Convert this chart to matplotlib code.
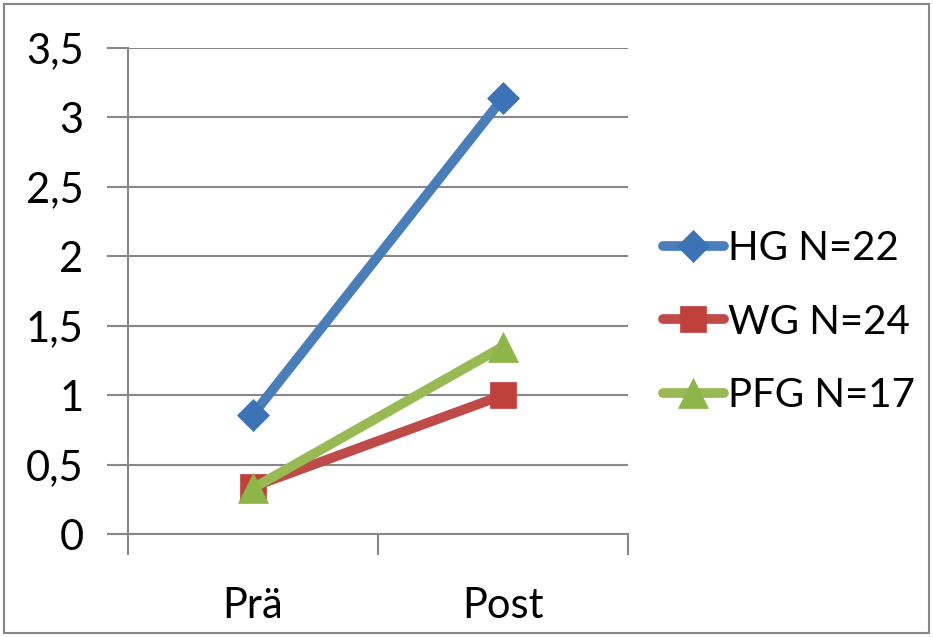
import matplotlib
matplotlib.use("Agg")
import matplotlib.pyplot as plt
from matplotlib.patches import Rectangle
from matplotlib.ticker import FuncFormatter

categories = ["Prä", "Post"]
groups = ["HG N=22", "WG N=24", "PFG N=17"]
hg = [0.86, 3.14]
wg = [0.34, 1.0]
pfg = [0.33, 1.35]

line_colors = ["#4A7EBB", "#BE4B48", "#98B954"]
marker_colors = ["#3C73B6", "#C0403C", "#8DB547"]
markers = ["D", "s", "^"]
msizes = [16, 19, 22]

plt.rcParams["font.family"] = ["Lato", "DejaVu Sans"]

fig = plt.figure(figsize=(9.33, 6.37), dpi=100)
ax = fig.add_axes([128 / 933, 1 - 534 / 637, 500 / 933, 486 / 637])

x = [0.5, 1.5]
for vals, name, lc, mc, m, ms in zip([hg, wg, pfg], groups, line_colors,
                                      marker_colors, markers, msizes):
    ax.plot(x, vals, color=lc, lw=7, solid_capstyle="round", marker=m,
            markersize=ms, markerfacecolor=mc, markeredgecolor=mc,
            markeredgewidth=0.5, label=name, zorder=3)

ax.set_xlim(0, 2)
ax.set_ylim(0, 3.5)
ax.set_yticks([i * 0.5 for i in range(8)])
ax.yaxis.set_major_formatter(FuncFormatter(lambda v, p: f"{v:g}".replace(".", ",")))
ax.grid(axis="y", color="#888888", lw=1.5)
ax.set_axisbelow(True)

ax.set_xticks([0, 1, 2])
ax.set_xticklabels([])
ax.set_xticks(x, minor=True)
ax.set_xticklabels(categories, minor=True)
ax.tick_params(axis="x", which="major", length=15, width=1.5, color="#888888")
ax.tick_params(axis="x", which="minor", length=0, pad=38, labelsize=30)
ax.tick_params(axis="y", length=15, width=1.5, color="#888888", pad=17, labelsize=30)

for s in ["top", "right"]:
    ax.spines[s].set_visible(False)
for s in ["left", "bottom"]:
    ax.spines[s].set_color("#888888")
    ax.spines[s].set_linewidth(1.5)

fig.legend(loc="center left", bbox_to_anchor=(643 / 933, 1 - 322 / 637),
           frameon=False, fontsize=29, handlelength=1.5, handletextpad=0.1,
           labelspacing=0.9, borderpad=0)

fig.patches.append(Rectangle((4 / 933, 4 / 637), 925 / 933, 629 / 637,
                             transform=fig.transFigure, fill=False,
                             edgecolor="#868686", lw=1.5))

fig.savefig("out.png", dpi=100)
